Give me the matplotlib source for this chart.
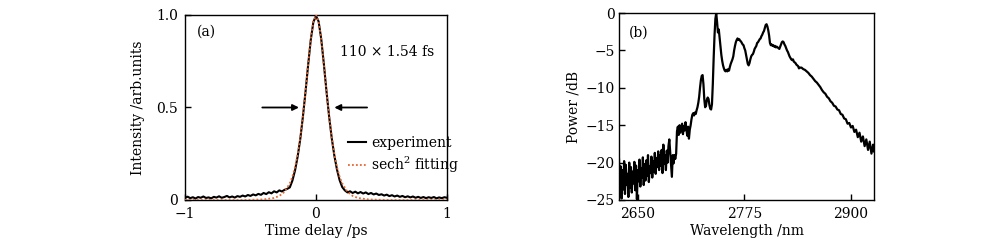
import numpy as np
import matplotlib
matplotlib.use("Agg")
import matplotlib.pyplot as plt

plt.rcParams['font.family'] = ['DejaVu Serif']
plt.rcParams['mathtext.fontset'] = 'dejavuserif'
plt.rcParams['axes.unicode_minus'] = True

# ---------------- Panel (a): autocorrelation ----------------
t_exp = [-1.00, -0.98, -0.96, -0.94, -0.92, -0.90, -0.88, -0.86, -0.84, -0.82,
         -0.80, -0.78, -0.76, -0.74, -0.72, -0.70, -0.68, -0.66, -0.64, -0.62,
         -0.60, -0.58, -0.56, -0.54, -0.52, -0.50, -0.48, -0.46, -0.44, -0.42,
         -0.40, -0.38, -0.36, -0.34, -0.32, -0.30, -0.28, -0.26, -0.24, -0.22,
         -0.20, -0.18, -0.16, -0.14, -0.12, -0.10, -0.08, -0.06, -0.04, -0.02,
         0.00, 0.02, 0.04, 0.06, 0.08, 0.10, 0.12, 0.14, 0.16, 0.18, 0.20,
         0.22, 0.24, 0.26, 0.28, 0.30, 0.32, 0.34, 0.36, 0.38, 0.40,
         0.42, 0.44, 0.46, 0.48, 0.50, 0.52, 0.54, 0.56, 0.58, 0.60,
         0.62, 0.64, 0.66, 0.68, 0.70, 0.72, 0.74, 0.76, 0.78, 0.80,
         0.82, 0.84, 0.86, 0.88, 0.90, 0.92, 0.94, 0.96, 0.98, 1.00]
i_exp = [0.012, 0.018, 0.010, 0.015, 0.008, 0.016, 0.012, 0.019, 0.011, 0.014,
         0.009, 0.017, 0.013, 0.020, 0.012, 0.016, 0.022, 0.014, 0.019, 0.013,
         0.021, 0.017, 0.024, 0.019, 0.027, 0.022, 0.030, 0.025, 0.033, 0.028,
         0.038, 0.032, 0.042, 0.036, 0.047, 0.041, 0.052, 0.046, 0.055, 0.060,
         0.068, 0.105, 0.160, 0.235, 0.330, 0.450, 0.585, 0.730, 0.865, 0.962,
         0.995, 0.965, 0.870, 0.735, 0.588, 0.452, 0.335, 0.240, 0.165, 0.108, 0.070,
         0.052, 0.041, 0.047, 0.038, 0.045, 0.036, 0.043, 0.035, 0.041, 0.032,
         0.038, 0.030, 0.035, 0.027, 0.031, 0.024, 0.029, 0.021, 0.026, 0.019,
         0.024, 0.017, 0.022, 0.015, 0.020, 0.014, 0.019, 0.012, 0.017, 0.011,
         0.016, 0.010, 0.015, 0.011, 0.016, 0.009, 0.014, 0.010, 0.015, 0.012]

t_fit = [-1.00, -0.60, -0.50, -0.40, -0.32, -0.28, -0.24, -0.20, -0.18, -0.16,
         -0.14, -0.12, -0.10, -0.08, -0.06, -0.04, -0.02, 0.00,
         0.02, 0.04, 0.06, 0.08, 0.10, 0.12, 0.14, 0.16, 0.18, 0.20,
         0.24, 0.28, 0.32, 0.40, 0.50, 0.60, 1.00]
i_fit = [0.000, 0.000, 0.001, 0.003, 0.011, 0.022, 0.044, 0.090, 0.126, 0.178,
         0.247, 0.338, 0.453, 0.588, 0.733, 0.868, 0.965, 1.000,
         0.965, 0.868, 0.733, 0.588, 0.453, 0.338, 0.247, 0.178, 0.126, 0.090,
         0.044, 0.022, 0.011, 0.003, 0.001, 0.000, 0.000]

# ---------------- Panel (b): spectrum ----------------
wl = list(range(2628, 2841)) + list(range(2842, 2927, 2)) + [2927]
power = [
    -19.6, -24.5,
    -20.5, -24.8, -21.0, -23.6, -19.8, -24.2, -20.3, -23.0, -21.5, -24.6,
    -20.0, -23.4, -20.6, -24.0, -21.2, -22.8, -19.9, -23.7, -20.4, -24.9,
    -21.0, -22.5, -19.6, -23.2, -20.8, -22.0, -19.3, -23.0, -20.2, -22.4,
    -19.7, -21.8, -19.0, -22.6, -20.5, -21.4, -19.2, -22.0, -19.8, -21.2,
    -18.7, -21.5, -19.4, -20.6, -18.5, -21.0, -19.0, -20.4, -18.3, -21.4,
    -17.6, -20.2, -19.0, -21.0, -18.4, -20.0, -17.8, -16.9, -18.6, -20.5,
    -21.9, -19.0, -20.1, -19.0, -19.5, -18.8, -15.8, -15.2, -16.3, -15.0,
    -16.0, -15.4, -14.8, -16.2, -15.1, -15.7, -14.6, -15.5, -16.4, -15.2,
    -16.8, -15.6, -15.0, -14.2, -13.6, -13.4, -13.7, -13.3, -13.5, -13.0,
    -12.6, -12.0, -11.2, -10.0, -9.0, -8.4, -8.3, -9.5, -11.5, -12.6,
    -12.4, -11.6, -11.3, -11.5, -12.3, -12.8, -12.9, -12.2, -9.5, -6.0,
    -3.0, -0.8, 0.0, -1.2, -2.6, -2.2, -3.3, -4.5, -5.6, -6.4,
    -7.0, -7.4, -7.7, -7.8, -7.6, -7.8, -7.5, -7.7, -7.2, -6.8,
    -6.5, -6.2, -5.8, -5.0, -4.4, -3.9, -3.6, -3.4, -3.6, -3.5,
    -3.7, -3.8, -4.0, -4.2, -4.3, -4.7, -5.0, -5.6, -6.2, -6.8,
    -7.0, -6.7, -6.2, -5.8, -5.6, -5.5, -5.2, -4.8, -4.6, -4.4,
    -4.0, -3.9, -3.7, -3.5, -3.4, -3.1, -2.9, -2.6, -2.4, -2.0,
    -1.6, -1.5, -1.8, -2.3, -3.0, -4.0, -4.3, -4.2, -4.4, -4.3,
    -4.5, -4.4, -4.6, -4.5, -4.6, -4.7, -4.8, -4.5, -4.2, -3.9,
    -3.8, -3.9, -4.2, -4.4, -4.7, -5.0, -5.2, -5.5, -5.8, -6.0,
    -6.2, -6.3, -6.2, -6.5, -6.6, -6.7, -6.9, -7.0, -7.1, -7.4,
    -7.3,
    -7.3, -7.5, -7.6, -7.8, -8.0, -8.3, -8.5, -8.8, -9.1, -9.3,
    -9.6, -9.9, -10.3, -10.6, -10.8, -11.2, -11.4, -11.8, -12.0, -12.4,
    -12.5, -12.9, -13.0, -13.5, -13.6, -14.1, -14.2, -14.8, -14.7, -15.3,
    -15.1, -15.9, -15.6, -16.6, -16.0, -17.2, -16.5, -17.8, -16.9, -18.3,
    -17.2, -18.8, -17.6, -18.5,
]

a_xticks = [-1, 0, 1]
a_xticklabels = ['\u22121', '0', '1']
a_yticks = [0, 0.5, 1.0]
a_yticklabels = ['0', '0.5', '1.0']
b_xticks = [2650, 2775, 2900]
b_yticks = [-25, -20, -15, -10, -5, 0]
b_yticklabels = ['\u221225', '\u221220', '\u221215', '\u221210', '\u22125', '0']

FS = 10
fig = plt.figure(figsize=(10, 2.47), dpi=100)

ax1 = fig.add_axes([0.185, 0.1903, 0.262, 0.749])
ax1.plot(t_exp, i_exp, color='black', lw=1.5, label='experiment', zorder=2)
ax1.plot(t_fit, i_fit, color='#e8662e', lw=1.3, ls=(0, (1, 1.2)),
         label='sech$^2$ fitting', zorder=3)
ax1.set_xlim(-1, 1)
ax1.set_ylim(0, 1.0)
ax1.set_xticks(a_xticks)
ax1.set_xticklabels(a_xticklabels)
ax1.set_yticks(a_yticks)
ax1.set_yticklabels(a_yticklabels)
ax1.tick_params(axis='x', direction='in', length=4, width=1, labelsize=FS, pad=5)
ax1.tick_params(axis='y', direction='in', length=4, width=1, labelsize=FS, pad=5)
ax1.set_xlabel('Time delay /ps', fontsize=FS, labelpad=2)
ax1.set_ylabel('Intensity /arb.units', fontsize=FS, labelpad=8)
ax1.text(-0.91, 0.91, '(a)', fontsize=FS, va='center', ha='left')
ax1.text(0.18, 0.80, '110 \u00d7 1.54 fs', fontsize=FS, va='center', ha='left')
ax1.annotate('', xy=(-0.13, 0.5), xytext=(-0.41, 0.5),
             arrowprops=dict(arrowstyle='-|>', color='black', lw=1.3,
                             mutation_scale=9, shrinkA=0, shrinkB=0))
ax1.annotate('', xy=(0.14, 0.5), xytext=(0.39, 0.5),
             arrowprops=dict(arrowstyle='-|>', color='black', lw=1.3,
                             mutation_scale=9, shrinkA=0, shrinkB=0))
ax1.legend(loc='center left', bbox_to_anchor=(0.575, 0.24), frameon=False,
           fontsize=FS, handlelength=1.3, handletextpad=0.35, labelspacing=0.35)
for s in ax1.spines.values():
    s.set_linewidth(1.0)

ax2 = fig.add_axes([0.619, 0.1903, 0.255, 0.757])
ax2.plot(wl, power, color='black', lw=1.6)
ax2.set_xlim(2628, 2927)
ax2.set_ylim(-25, 0)
ax2.set_xticks(b_xticks)
ax2.set_yticks(b_yticks)
ax2.set_yticklabels(b_yticklabels)
ax2.tick_params(axis='x', direction='in', length=4, width=1, labelsize=FS, pad=5)
ax2.tick_params(axis='y', direction='in', length=4, width=1, labelsize=FS, pad=3)
ax2.set_xlabel('Wavelength /nm', fontsize=FS, labelpad=2)
ax2.set_ylabel('Power /dB', fontsize=FS, labelpad=4)
ax2.text(2640, -2.6, '(b)', fontsize=FS, va='center', ha='left')
for s in ax2.spines.values():
    s.set_linewidth(1.0)

fig.savefig('out.png', dpi=100)
